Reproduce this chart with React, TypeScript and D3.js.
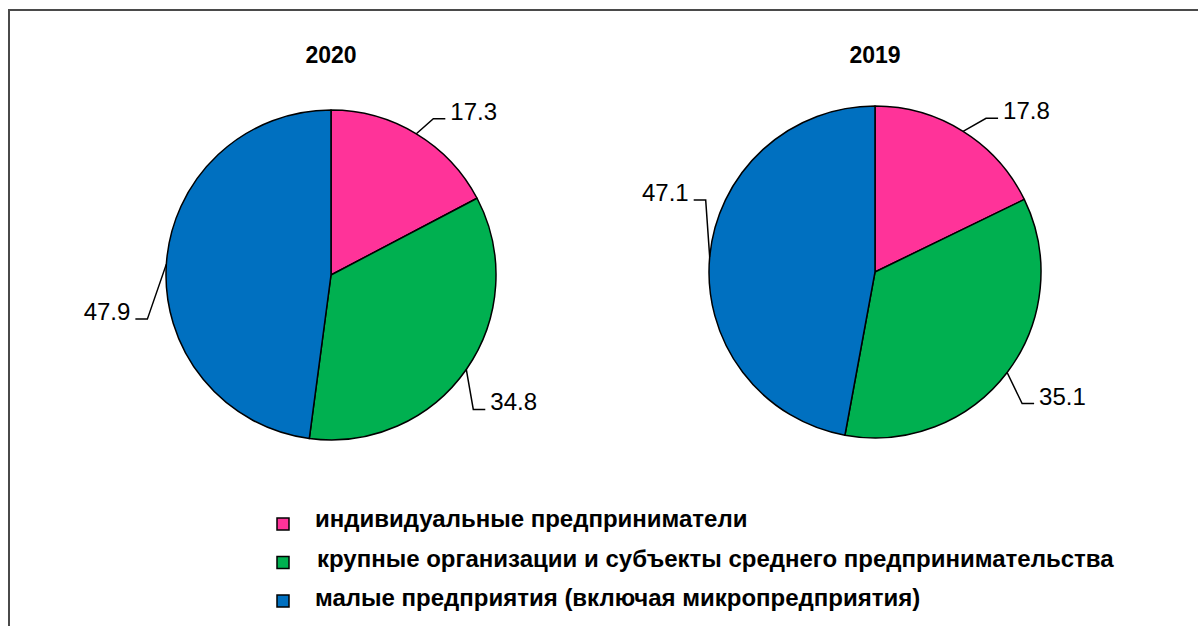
import React from "react";
import * as d3 from "d3";

const categories = [
  "индивидуальные предприниматели",
  "крупные организации и субъекты среднего предпринимательства",
  "малые предприятия (включая микропредприятия)",
];
const years = ["2020", "2019"];
const values2020 = [17.3, 34.8, 47.9];
const values2019 = [17.8, 35.1, 47.1];
const series = [values2020, values2019];

const colors = ["#FF3399", "#00B050", "#0070C0"];

// label elbow nudges away from the slice edge (manually placed labels)
const labelNudge = [
  [
    [17, -15],
    [7, 40],
    [-19, 55],
  ],
  [
    [23, -13],
    [15, 31],
    [-4, -57],
  ],
];

const W = 1198;
const H = 626;
const font = "'Liberation Sans', Arial, sans-serif";

const pies = [
  { cx: 331, cy: 275, r: 165 },
  { cx: 875, cy: 272, r: 166 },
];

const Pie = ({ idx }: { idx: number }) => {
  const { cx, cy, r } = pies[idx];
  const values = series[idx];
  const arcs = d3.pie<number>().sort(null).value((d) => d)(values);
  const arc = d3.arc<d3.PieArcDatum<number>>().innerRadius(0).outerRadius(r);

  return (
    <g transform={`translate(${cx},${cy})`}>
      <text
        x={0}
        y={63 - cy}
        textAnchor="middle"
        fontFamily={font}
        fontWeight="bold"
        fontSize={23}
      >
        {years[idx]}
      </text>
      {arcs.map((a, i) => (
        <path
          key={i}
          d={arc(a) || ""}
          fill={colors[i]}
          stroke="#000"
          strokeWidth={1.5}
          strokeLinejoin="round"
        />
      ))}
      {arcs.map((a, i) => {
        const mid = (a.startAngle + a.endAngle) / 2;
        const sx = r * Math.sin(mid);
        const sy = -r * Math.cos(mid);
        const [nx, ny] = labelNudge[idx][i];
        const ex = sx + nx;
        const ey = sy + ny;
        const right = Math.sin(mid) > 0;
        const hx = ex + (right ? 12 : -12);
        const tx = hx + (right ? 5 : -5);
        return (
          <g key={"l" + i}>
            <polyline
              points={`${sx},${sy} ${ex},${ey} ${hx},${ey}`}
              fill="none"
              stroke="#000"
              strokeWidth={1.5}
            />
            <text
              x={tx}
              y={ey + 1}
              textAnchor={right ? "start" : "end"}
              fontFamily={font}
              fontSize={24}
            >
              {values[i].toFixed(1)}
            </text>
          </g>
        );
      })}
    </g>
  );
};

const legendY = d3.scalePoint<number>().domain([0, 1, 2]).range([524, 601]);

export default function App() {
  return (
    <svg
      width={W}
      height={H}
      style={{ position: "absolute", left: 0, top: 0, background: "#fff" }}
    >
      <rect
        x={9}
        y={10}
        width={W + 20}
        height={H + 20}
        fill="#fff"
        stroke="#4a4a4a"
        strokeWidth={2}
      />
      <Pie idx={0} />
      <Pie idx={1} />
      {categories.map((c, i) => {
        const y = legendY(i) as number;
        return (
          <g key={c}>
            <rect
              x={277}
              y={y - 6}
              width={12}
              height={12}
              fill={colors[i]}
              stroke="#000"
              strokeWidth={1.5}
            />
            <text
              x={i === 1 ? 317 : 315}
              y={y + 3 + i * 1}
              fontFamily={font}
              fontWeight="bold"
              fontSize={24}
            >
              {c}
            </text>
          </g>
        );
      })}
    </svg>
  );
}
